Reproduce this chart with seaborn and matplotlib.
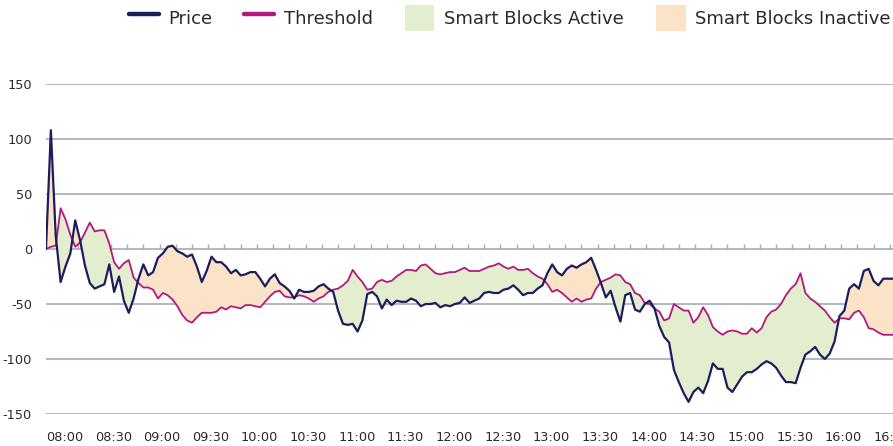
import numpy as np
import pandas as pd
import matplotlib
matplotlib.use("Agg")
import matplotlib.pyplot as plt
from matplotlib.lines import Line2D
from matplotlib.patches import Patch
from matplotlib.ticker import NullFormatter
import seaborn as sns

# ---------------- data (3-minute samples from 08:00) ----------------
start_time = "2024-01-01 08:00"
sample_step = "3min"

price = [
    0, 108, 12, -30, -16, -4, 26, 8, -15, -31,
    -36, -34, -32, -14, -39, -25, -47, -58, -45, -27,
    -14, -24, -21, -8, -4, 2, 3, -2, -4, -7,
    -5, -16, -30, -20, -7, -12, -12, -16, -22, -19,
    -24, -23, -21, -21, -27, -34, -27, -23, -31, -34,
    -38, -45, -37, -39, -39, -38, -34, -32, -36, -39,
    -56, -68, -69, -68, -75, -65, -41, -39, -43, -54,
    -46, -51, -47, -48, -48, -45, -47, -52, -50, -50,
    -49, -53, -51, -52, -50, -49, -44, -49, -47, -45,
    -40, -39, -40, -40, -37, -36, -33, -37, -42, -40,
    -40, -36, -33, -22, -14, -21, -24, -18, -15, -17,
    -14, -12, -8, -19, -31, -44, -38, -53, -66, -42,
    -40, -55, -57, -50, -47, -54, -70, -80, -85, -110,
    -121, -131, -139, -130, -126, -131, -120, -104, -109, -109,
    -126, -130, -123, -116, -112, -112, -109, -105, -102, -104,
    -108, -115, -121, -121, -122, -108, -96, -93, -89, -96,
    -100, -95, -84, -61, -56, -36, -32, -36, -20, -18,
    -29, -33, -27, -27, -27,
]

threshold = [
    0, 2, 3, 37, 27, 13, 2, 6, 15, 24,
    16, 17, 17, 5, -12, -18, -13, -10, -26, -31,
    -35, -35, -37, -45, -40, -42, -46, -52, -60, -65,
    -67, -62, -58, -58, -58, -57, -53, -55, -52, -53,
    -54, -51, -51, -52, -53, -48, -43, -39, -38, -43,
    -44, -44, -42, -43, -45, -48, -45, -43, -39, -37,
    -36, -33, -29, -19, -25, -30, -37, -36, -30, -28,
    -30, -29, -25, -22, -19, -19, -20, -15, -14, -18,
    -22, -23, -22, -21, -21, -19, -17, -20, -20, -20,
    -18, -16, -15, -13, -16, -18, -16, -19, -19, -18,
    -22, -25, -27, -32, -39, -37, -40, -44, -48, -45,
    -48, -46, -45, -36, -30, -28, -26, -23, -24, -30,
    -32, -40, -42, -49, -50, -54, -57, -65, -63, -50,
    -53, -56, -56, -67, -62, -53, -60, -71, -75, -78,
    -75, -74, -75, -77, -77, -72, -76, -72, -62, -57,
    -55, -50, -42, -36, -32, -22, -40, -45, -48, -52,
    -56, -62, -67, -63, -63, -64, -58, -56, -62, -72,
    -73, -76, -78, -78, -78,
]

x_tick_labels = ["08:00", "08:30", "09:00", "09:30", "10:00", "10:30", "11:00",
                 "11:30", "12:00", "12:30", "13:00", "13:30", "14:00", "14:30",
                 "15:00", "15:30", "16:00", "16:30"]
y_ticks = [-150, -100, -50, 0, 50, 100, 150]
legend_labels = ["Price", "Threshold", "Smart Blocks Active", "Smart Blocks Inactive"]

# ---------------- styles ----------------
PRICE_C = "#1c1d5c"
THR_C = "#b3187f"
ACTIVE_C = "#e3eecf"
INACTIVE_C = "#fbe3c8"
GRID_C = "#a3abba"
TEXT_C = "#2a2a2a"

times = pd.date_range(start_time, periods=len(price), freq=sample_step)
minutes = ((times - times[0]) / pd.Timedelta(minutes=1)).to_numpy(float)
df = pd.DataFrame({"minute": minutes, "Price": price, "Threshold": threshold})

sns.set_theme(style="white")
plt.rcParams["font.family"] = ["DejaVu Sans"]

W, H = 893, 446
fig = plt.figure(figsize=(W / 100, H / 100), dpi=100)
ax = fig.add_axes([46 / W, 32 / H, (W - 46) / W, 330 / H])

p = df["Price"].to_numpy(float)
t = df["Threshold"].to_numpy(float)
x = df["minute"].to_numpy(float)

ax.fill_between(x, p, t, where=p <= t, interpolate=True, color=ACTIVE_C, lw=0, zorder=1)
ax.fill_between(x, p, t, where=p >= t, interpolate=True, color=INACTIVE_C, lw=0, zorder=1)

sns.lineplot(data=df, x="minute", y="Threshold", ax=ax, color=THR_C, linewidth=1.3, zorder=3)
sns.lineplot(data=df, x="minute", y="Price", ax=ax, color=PRICE_C, linewidth=1.6, zorder=4)

ax.set_xlim(x[0], x[-1])
ax.set_ylim(-150, 150)
ax.set_xlabel("")
ax.set_ylabel("")

# y grid
ax.set_yticks(y_ticks)
ax.set_yticklabels([str(v) for v in y_ticks])
ax.grid(axis="y", color=GRID_C, linewidth=1.2, zorder=0)
ax.grid(axis="x", visible=False)
ax.set_axisbelow(True)
for s in ax.spines.values():
    s.set_visible(False)
ax.tick_params(axis="y", length=0, pad=10, labelsize=9.3, labelcolor=TEXT_C)

# x labels at the bottom (left aligned at tick)
tick_pos = [(pd.Timestamp(start_time[:11] + lab) - times[0]) / pd.Timedelta(minutes=1)
            for lab in x_tick_labels]
ax.set_xticks(tick_pos)
ax.set_xticklabels(x_tick_labels)
ax.tick_params(axis="x", length=0, pad=12, labelsize=9.3, labelcolor=TEXT_C)
for lab in ax.get_xticklabels():
    lab.set_horizontalalignment("left")

# small tick marks on the zero line every 10 minutes
sec = ax.secondary_xaxis(0.5)
sec.set_xticks(np.arange(0, x[-1], 10))
sec.xaxis.set_major_formatter(NullFormatter())
sec.tick_params(axis="x", length=3.5, width=1, color=GRID_C, direction="out",
                labelbottom=False, labeltop=False)
for s in sec.spines.values():
    s.set_visible(False)

# legend
handles = [
    Line2D([0], [0], color=PRICE_C, lw=3.2),
    Line2D([0], [0], color=THR_C, lw=3.2),
    Patch(facecolor=ACTIVE_C, edgecolor="none"),
    Patch(facecolor=INACTIVE_C, edgecolor="none"),
]
fig.legend(handles, legend_labels, loc="upper right", bbox_to_anchor=(891 / W, 1 - 5 / H),
           ncol=4, frameon=False, fontsize=13, handlelength=1.65, handleheight=1.8,
           handletextpad=0.55, columnspacing=1.75, borderpad=0, borderaxespad=0,
           labelcolor=TEXT_C)

fig.savefig("out.png", dpi=100)
